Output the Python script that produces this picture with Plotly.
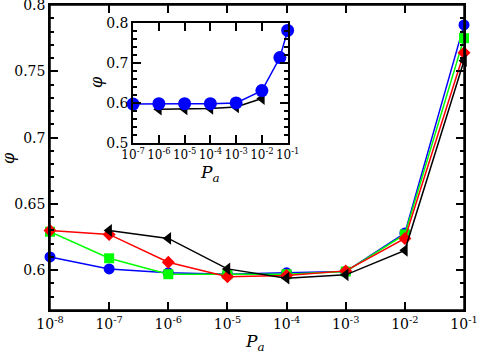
import plotly.graph_objects as go

# Main plot data
pa_main = [1e-8, 1e-7, 1e-6, 1e-5, 1e-4, 1e-3, 1e-2, 1e-1]
phi_blue = [0.610, 0.601, 0.598, 0.597, 0.598, 0.599, 0.628, 0.785]
phi_green = [0.629, 0.609, 0.597, 0.597, 0.597, 0.599, 0.627, 0.775]
phi_red = [0.630, 0.627, 0.606, 0.595, 0.596, 0.5995, 0.624, 0.764]
pa_black = [1e-7, 1e-6, 1e-5, 1e-4, 1e-3, 1e-2, 1e-1]
phi_black = [0.630, 0.624, 0.601, 0.594, 0.5965, 0.615, 0.758]

# Inset data
pa_in_blue = [1e-7, 1e-6, 1e-5, 1e-4, 1e-3, 1e-2, 5e-2, 1e-1]
phi_in_blue = [0.597, 0.598, 0.598, 0.598, 0.600, 0.631, 0.714, 0.782]
pa_in_black = [1e-6, 1e-5, 1e-4, 1e-3, 1e-2]
phi_in_black = [0.584, 0.585, 0.586, 0.590, 0.611]

x_main_ticks = [1e-8, 1e-7, 1e-6, 1e-5, 1e-4, 1e-3, 1e-2, 1e-1]
x_main_labels = ["10<sup>-8</sup>", "10<sup>-7</sup>", "10<sup>-6</sup>", "10<sup>-5</sup>",
                 "10<sup>-4</sup>", "10<sup>-3</sup>", "10<sup>-2</sup>", "10<sup>-1</sup>"]
y_main_ticks = [0.6, 0.65, 0.7, 0.75, 0.8]
y_main_labels = ["0.6", "0.65", "0.7", "0.75", "0.8"]
x_in_ticks = [1e-7, 1e-6, 1e-5, 1e-4, 1e-3, 1e-2, 1e-1]
x_in_labels = ["10<sup>-7</sup>", "10<sup>-6</sup>", "10<sup>-5</sup>", "10<sup>-4</sup>",
               "10<sup>-3</sup>", "10<sup>-2</sup>", "10<sup>-1</sup>"]
y_in_ticks = [0.5, 0.6, 0.7, 0.8]
y_in_labels = ["0.5", "0.6", "0.7", "0.8"]

FONT = "DejaVu Serif"

fig = go.Figure()

def add(x, y, color, symbol, size, xa="x", ya="y"):
    fig.add_trace(go.Scatter(
        x=x, y=y, mode="lines+markers", xaxis=xa, yaxis=ya, cliponaxis=False,
        line=dict(color=color, width=1.5),
        marker=dict(color=color, symbol=symbol, size=size, line=dict(width=0)),
        showlegend=False))

add(pa_main, phi_blue, "#0000ff", "circle", 11)
add(pa_main, phi_green, "#00ff00", "square", 10)
add(pa_main, phi_red, "#ff0000", "diamond", 10)
add(pa_black, phi_black, "#000000", "triangle-left", 11)

add(pa_in_black, phi_in_black, "#000000", "triangle-left", 11, "x2", "y2")
add(pa_in_blue, phi_in_blue, "#0000ff", "circle", 13, "x2", "y2")

def axis_common(size):
    return dict(showgrid=False, zeroline=False, showline=True, linecolor="black",
                linewidth=1.5, mirror="ticks", ticks="inside", tickcolor="black",
                tickwidth=1.5, ticklen=8, automargin=False, tickangle=0,
                ticklabeloverflow="allow",
                tickfont=dict(family=FONT, size=size, color="black"))

fig.update_layout(
    width=477, height=354,
    margin=dict(l=50, r=13, t=5, b=44),
    paper_bgcolor="white", plot_bgcolor="white",
    font=dict(family=FONT, color="black"),
    xaxis=dict(type="log", range=[-8.0001, -0.9999], tickvals=x_main_ticks, ticktext=x_main_labels,
               domain=[0, 1], **axis_common(14)),
    yaxis=dict(range=[0.57, 0.8], tickvals=y_main_ticks, ticktext=y_main_labels,
               minor=dict(ticks="inside", dtick=0.01, ticklen=4, tickcolor="black", tickwidth=1.5),
               domain=[0, 1], **axis_common(14)),
    xaxis2=dict(type="log", range=[-7.0001, -0.9999], tickvals=x_in_ticks, ticktext=x_in_labels,
                domain=[0.2007, 0.574], anchor="y2", **axis_common(12)),
    yaxis2=dict(range=[0.5, 0.8], tickvals=y_in_ticks, ticktext=y_in_labels,
                minor=dict(ticks="inside", dtick=0.02, ticklen=4, tickcolor="black", tickwidth=1.5),
                domain=[0.5485, 0.940], anchor="x2", **axis_common(14)),
)

# frame around main plot
fig.add_shape(type="rect", xref="x domain", yref="y domain", x0=0, x1=1, y0=0, y1=1,
              line=dict(color="black", width=1.5), layer="above")

def px2paper(px, py):
    return (px - 50) / 414, (310 - py) / 305

annots = [
    ("<i>P</i><sub><i>a</i></sub>", 255, 342, 0, 17),
    ("<i>φ</i>", 8, 158, -90, 16),
    ("<i>P</i><sub><i>a</i></sub>", 210, 173, 0, 17),
    ("<i>φ</i>", 97, 82, -90, 16),
]
for text, px, py, ang, sz in annots:
    ax_, ay_ = px2paper(px, py)
    fig.add_annotation(text=text, x=ax_, y=ay_, xref="paper", yref="paper",
                       showarrow=False, textangle=ang, xanchor="center", yanchor="middle",
                       font=dict(family=FONT, size=sz, color="black"))

fig.write_html("out.html", config={"displayModeBar": False},
               post_script="document.body.style.margin='0';document.body.style.overflow='hidden';")
